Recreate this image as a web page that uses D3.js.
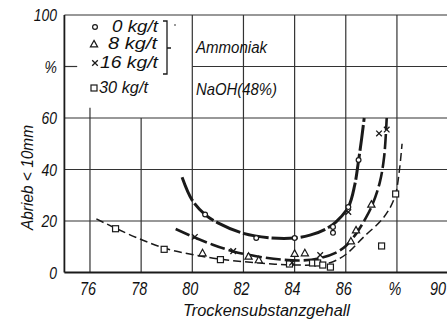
<!DOCTYPE html>
<meta charset="utf-8">
<html>
<head>
<title>Abrieb</title>
<style>
  body { margin: 0; background: #fff; }
  svg text { font-family: "Liberation Sans", "DejaVu Sans", sans-serif; font-style: italic; fill: #111; }
</style>
</head>
<body>
<div id="viz"></div>
<script src="https://cdnjs.cloudflare.com/ajax/libs/d3/7.8.5/d3.min.js"></script>
<script>
// tick values and labels
var xTicks = [76, 78, 80, 82, 84, 86, 88, 90];
var xTickLabels = ["76", "78", "80", "82", "84", "86", "%", "90"];
var yTicks = [0, 20, 40, 60, 80, 100];
var yTickLabels = ["0", "20", "40", "60", "%", "100"];

// measured points  [Trockensubstanz %, Abrieb %]
var pts0 = [[80.5, 22.5], [82.5, 13.4], [84.0, 13.4], [85.5, 17.7], [85.5, 15.4], [86.1, 25.4], [86.5, 43.7]];
var pts8 = [[80.4, 7.6], [82.2, 6.3], [82.6, 4.9], [84.0, 7.4], [84.4, 7.6], [86.2, 12.2], [86.4, 16.5], [87.0, 26.5]];
var pts16 = [[80.1, 13.8], [81.6, 8.3], [83.9, 3.8], [85.0, 6.8], [86.1, 23.5], [87.3, 54], [87.6, 55.5]];
var pts30 = [[77.0, 17], [78.9, 9], [81.1, 5], [83.8, 3.3], [84.7, 3.7], [84.9, 3.7], [85.1, 2.9], [85.4, 2.1], [87.4, 10.3], [87.95, 30.5]];

// hand drawn curves
var curve0 = [[79.6, 37], [80, 28], [80.5, 22.5], [81, 19.3], [82, 15.2], [83, 13.5], [84, 13.4], [84.6, 14.5], [85.2, 16.8], [85.6, 19.5], [86.1, 25.4], [86.35, 34], [86.5, 43.5], [86.62, 52], [86.72, 60]];
var curve16 = [[79.35, 16.9], [80, 14], [80.8, 10.8], [81.6, 8.2], [82.5, 6.3], [83.5, 5], [84.3, 4.7], [85, 5.6], [85.6, 7.6], [86, 10.3], [86.4, 15], [86.8, 21.5], [87.05, 26.6], [87.33, 35], [87.5, 45], [87.6, 60]];
var curve30 = [[76.25, 20.8], [77, 17.2], [78, 12.8], [79, 9.2], [80, 7], [81, 5.3], [82, 4.2], [83, 3.4], [84, 2.9], [85, 3.1], [85.5, 4.2], [86, 7], [86.7, 13.8], [87.4, 20.4], [87.75, 25.5], [87.95, 30.5], [88.1, 40], [88.2, 50]];

var legendLabels = ["0 kg/t", "8 kg/t", "16 kg/t", "30 kg/t"];
var noteLabels = ["Ammoniak", "NaOH(48%)"];

var W = 447, H = 324;
var x = d3.scaleLinear().domain([75, 90]).range([64.4, 448.1]);
var y = d3.scaleLinear().domain([0, 100]).range([272.5, 15]);

var svg = d3.select("#viz").append("svg")
    .attr("width", W).attr("height", H);

var ink = "#1a1a1a";

// grid
var grid = svg.append("g").attr("stroke", "#333").attr("stroke-width", 1.2);
yTicks.forEach(function (v) {
    if (v == 0) return;
    if (v == 80) {
        grid.append("line").attr("x1", x(75)).attr("x2", x(75.5)).attr("y1", y(v)).attr("y2", y(v));
        grid.append("line").attr("x1", x(80)).attr("x2", W).attr("y1", y(v)).attr("y2", y(v));
    } else {
        grid.append("line").attr("x1", x(75)).attr("x2", W).attr("y1", y(v)).attr("y2", y(v));
    }
});
xTicks.forEach(function (v) {
    var top = v < 80 ? y(60) : y(100);
    grid.append("line").attr("x1", x(v)).attr("x2", x(v)).attr("y1", top).attr("y2", y(0));
});
grid.append("line").attr("x1", x(76)).attr("x2", x(76)).attr("y1", y(64)).attr("y2", y(60));

// axes frame
svg.append("line").attr("x1", x(75)).attr("x2", x(75)).attr("y1", y(100)).attr("y2", y(0))
    .attr("stroke", ink).attr("stroke-width", 1.8);
svg.append("line").attr("x1", x(75)).attr("x2", W).attr("y1", y(0)).attr("y2", y(0))
    .attr("stroke", ink).attr("stroke-width", 2.2);

// tick labels
function squeeze(sel, sx) {
    return sel.attr("transform", function () {
        var t = d3.select(this);
        var px = +t.attr("data-x"), py = +t.attr("data-y");
        return "translate(" + px + "," + py + ") scale(" + sx + ",1)";
    });
}
svg.selectAll(".ylab").data(yTicks).enter().append("text")
    .attr("class", "ylab")
    .attr("data-x", 57).attr("data-y", function (d) { return y(d) + 6; })
    .attr("text-anchor", "end").attr("font-size", 17)
    .text(function (d, i) { return yTickLabels[i]; })
    .call(squeeze, 0.82);

// last label sits at the right edge, keep it inside
svg.selectAll(".xlab").data(xTicks).enter().append("text")
    .attr("class", "xlab")
    .attr("data-x", function (d) { return d == 90 ? W - 1 : x(d) - 2; }).attr("data-y", 295)
    .attr("text-anchor", function (d) { return d == 90 ? "end" : "middle"; })
    .attr("font-size", 18)
    .text(function (d, i) { return xTickLabels[i]; })
    .call(squeeze, 0.8);

// axis titles
svg.append("text").attr("x", 183).attr("y", 316).attr("font-size", 16)
    .attr("textLength", 167).attr("lengthAdjust", "spacingAndGlyphs")
    .text("Trockensubstanzgehall");
svg.append("text").attr("transform", "translate(33,230) rotate(-90)")
    .attr("font-size", 16).attr("textLength", 105).attr("lengthAdjust", "spacingAndGlyphs")
    .text("Abrieb < 10mm");

// curves
var line = d3.line()
    .x(function (d) { return x(d[0]); })
    .y(function (d) { return y(d[1]); })
    .curve(d3.curveCatmullRom.alpha(0.5));

svg.append("path").datum(curve0).attr("d", line)
    .attr("fill", "none").attr("stroke", ink).attr("stroke-width", 3)
    .attr("stroke-dasharray", "26,3");
svg.append("path").datum(curve16).attr("d", line)
    .attr("fill", "none").attr("stroke", ink).attr("stroke-width", 2.6)
    .attr("stroke-dasharray", "15,4");
svg.append("path").datum(curve30).attr("d", line)
    .attr("fill", "none").attr("stroke", ink).attr("stroke-width", 1.5)
    .attr("stroke-dasharray", "8,4");

// markers
function drawCircle(g, cx, cy) {
    g.append("circle").attr("cx", cx).attr("cy", cy).attr("r", 2.4)
        .attr("fill", "#fff").attr("stroke", ink).attr("stroke-width", 1.2);
}
function drawTri(g, cx, cy) {
    var s = 3.6;
    g.append("path")
        .attr("d", "M" + cx + "," + (cy - s) + "L" + (cx + s) + "," + (cy + s * 0.8) + "L" + (cx - s) + "," + (cy + s * 0.8) + "Z")
        .attr("fill", "#fff").attr("stroke", ink).attr("stroke-width", 1.2);
}
function drawCross(g, cx, cy) {
    var s = 2.8;
    g.append("path")
        .attr("d", "M" + (cx - s) + "," + (cy - s) + "L" + (cx + s) + "," + (cy + s) + "M" + (cx + s) + "," + (cy - s) + "L" + (cx - s) + "," + (cy + s))
        .attr("stroke", ink).attr("stroke-width", 1.3);
}
function drawSquare(g, cx, cy) {
    g.append("rect").attr("x", cx - 3).attr("y", cy - 3).attr("width", 6).attr("height", 6)
        .attr("fill", "#fff").attr("stroke", ink).attr("stroke-width", 1.2);
}

var marks = svg.append("g");
pts30.forEach(function (d) { drawSquare(marks, x(d[0]), y(d[1])); });
pts8.forEach(function (d) { drawTri(marks, x(d[0]), y(d[1])); });
pts16.forEach(function (d) { drawCross(marks, x(d[0]), y(d[1])); });
pts0.forEach(function (d) { drawCircle(marks, x(d[0]), y(d[1])); });

// legend
var leg = svg.append("g");
var legRows = [
    { sym: drawCircle, sx: 95, sy: 27, tx: 112, ty: 32, w: 46 },
    { sym: drawTri, sx: 94, sy: 44, tx: 108, ty: 49, w: 49 },
    { sym: drawCross, sx: 95, sy: 63, tx: 100, ty: 68, w: 58 },
    { sym: drawSquare, sx: 94, sy: 88, tx: 99, ty: 93, w: 49 }
];
legRows.forEach(function (r, i) {
    r.sym(leg, r.sx, r.sy);
    leg.append("text").attr("x", r.tx).attr("y", r.ty).attr("font-size", 17)
        .attr("textLength", r.w).attr("lengthAdjust", "spacingAndGlyphs")
        .text(legendLabels[i]);
});
// bracket
leg.append("path")
    .attr("d", "M163,21H167V74H163M167,48H171")
    .attr("fill", "none").attr("stroke", ink).attr("stroke-width", 1.3);
leg.append("circle").attr("cx", 175).attr("cy", 25).attr("r", 0.8).attr("fill", ink);

svg.append("text").attr("x", 196).attr("y", 53).attr("font-size", 16)
    .attr("textLength", 71).attr("lengthAdjust", "spacingAndGlyphs")
    .text(noteLabels[0]);
svg.append("text").attr("x", 196).attr("y", 95).attr("font-size", 17)
    .attr("textLength", 81).attr("lengthAdjust", "spacingAndGlyphs")
    .text(noteLabels[1]);
</script>
</body>
</html>
